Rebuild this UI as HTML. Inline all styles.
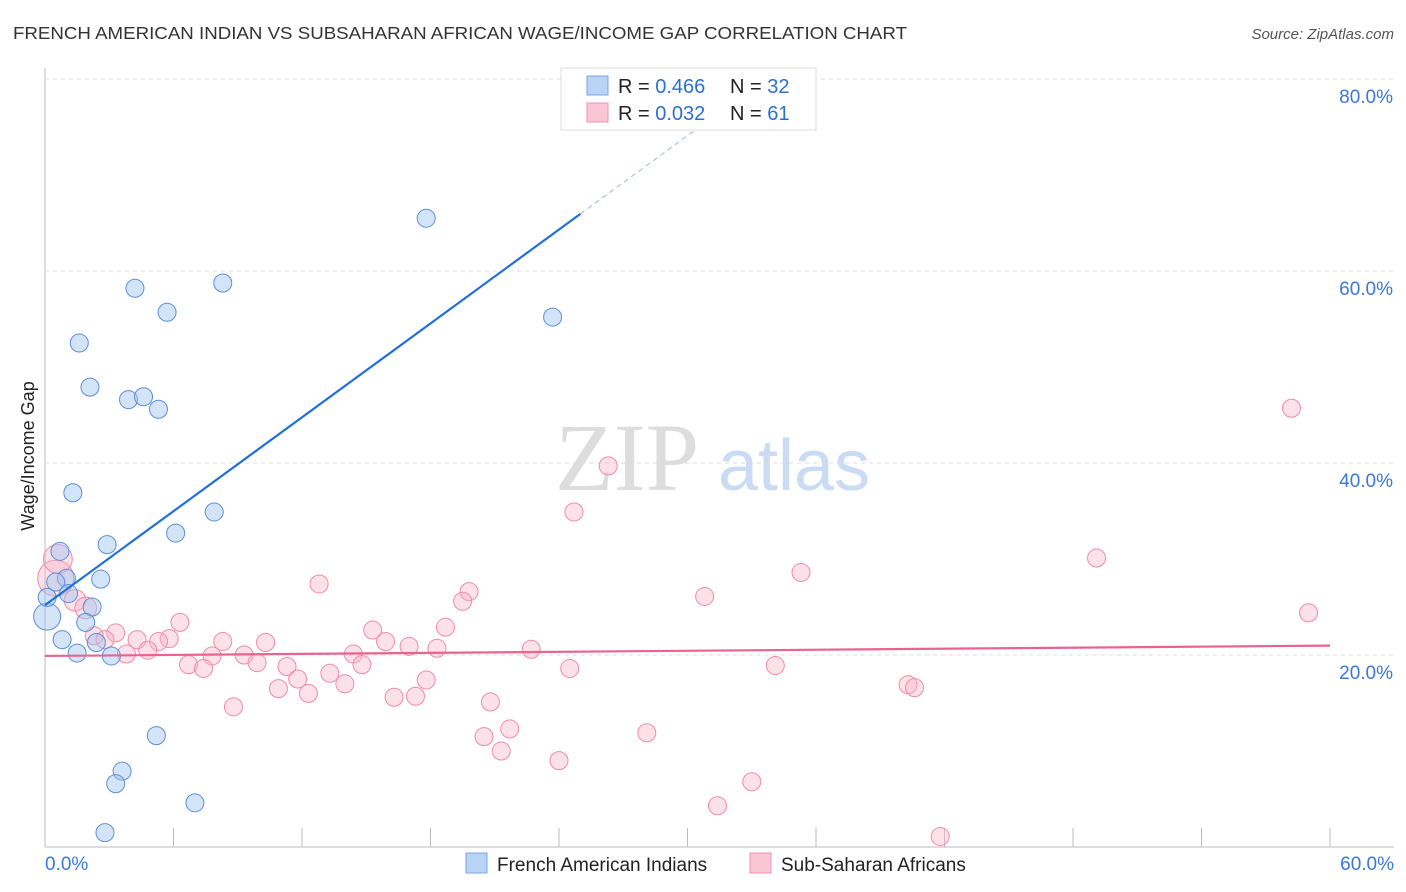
<!DOCTYPE html>
<html><head><meta charset="utf-8"><style>
body{margin:0;background:#fff;font-family:"Liberation Sans",sans-serif;}
svg{display:block}
</style></head><body>
<svg id="chart" width="1406" height="892" viewBox="0 0 1406 892">
<text x="13" y="39" font-size="17.5" fill="#333" textLength="894" lengthAdjust="spacingAndGlyphs">FRENCH AMERICAN INDIAN VS SUBSAHARAN AFRICAN WAGE/INCOME GAP CORRELATION CHART</text>
<text x="1394" y="39" font-size="15" fill="#555" text-anchor="end" font-style="italic">Source: ZipAtlas.com</text>
<text x="555" y="490" font-size="96" fill="#ddd" font-family="Liberation Serif,serif">ZIP</text>
<text x="718" y="490" font-size="72" fill="#c9dcf3">atlas</text>
<text transform="translate(34,456) rotate(-90)" font-size="18" fill="#222" text-anchor="middle">Wage/Income Gap</text>
<g id="grid"></g><g id="pts"></g><g id="lines"></g>
<g>
<rect x="561" y="68" width="255" height="62" fill="#fff" stroke="#ddd"/>
<rect x="587" y="76" width="21" height="19" fill="#b9d3f5" stroke="#7aa6e0"/>
<rect x="587" y="103" width="21" height="19" fill="#fac6d5" stroke="#ee93ad"/>
<text x="618" y="93" font-size="20" fill="#222">R = <tspan fill="#2c6fd1">0.466</tspan></text>
<text x="730" y="93" font-size="20" fill="#222">N = <tspan fill="#2c6fd1">32</tspan></text>
<text x="618" y="120" font-size="20" fill="#222">R = <tspan fill="#2c6fd1">0.032</tspan></text>
<text x="730" y="120" font-size="20" fill="#222">N = <tspan fill="#2c6fd1"> 61</tspan></text>
</g>
<g>
<rect x="466" y="853" width="21" height="20" fill="#b9d3f5" stroke="#7aa6e0"/>
<text x="497" y="871" font-size="19" fill="#222">French American Indians</text>
<rect x="750" y="853" width="21" height="20" fill="#fac6d5" stroke="#ee93ad"/>
<text x="781" y="871" font-size="19" fill="#222">Sub-Saharan Africans</text>
</g>
</svg>
<script>
const xTicks=[0,6,12,18,24,30,36,42,48,54,60];
const yTicks=[20,40,60,80];
const blueX=[17.8,4.2,8.3,5.7,23.7,1.6,2.1,3.9,4.6,5.3,1.3,7.9,6.1,2.9,0.7,2.6,1.0,0.5,1.1,2.2,0.1,1.9,0.8,2.4,1.5,3.1,5.2,3.6,3.3,7.0,2.8,0.1];
const blueY=[65.5,58.2,58.75,55.7,55.2,52.5,47.9,46.6,46.9,45.6,36.9,34.9,32.7,31.5,30.8,27.9,28.0,27.6,26.4,25.0,24.0,23.4,21.6,21.3,20.2,19.9,11.6,7.9,6.6,4.6,1.5,26.0];
const blueW=[1,1,1,1,1,1,1,1,1,1,1,1,1,1,1,1,1,1,1,1,1.5,1,1,1,1,1,1,1,1,1,1,1];
const pinkX=[58.2,26.3,24.7,49.1,35.3,12.8,19.8,19.5,30.8,59.0,6.3,18.7,15.3,3.3,2.3,2.8,4.3,5.8,5.3,8.3,10.3,15.9,17.0,18.3,22.7,4.8,3.8,7.8,9.3,14.4,9.9,6.7,7.4,11.3,14.8,24.5,34.1,13.3,11.8,17.8,14.0,10.9,12.3,16.3,17.3,40.3,40.6,20.8,8.8,21.7,20.5,28.1,21.3,24.0,33.0,31.4,41.8,0.5,0.6,1.4,1.9];
const pinkY=[45.7,39.7,34.9,30.1,28.6,27.4,26.6,25.6,26.1,24.4,23.4,22.9,22.6,22.3,22.0,21.6,21.6,21.7,21.4,21.4,21.3,21.4,20.9,20.7,20.6,20.5,20.1,19.9,20.0,20.1,19.2,19.0,18.6,18.8,19.0,18.6,18.9,18.1,17.5,17.4,17.0,16.5,16.0,15.6,15.7,16.9,16.6,15.1,14.6,12.3,11.5,11.9,10.0,9.0,6.8,4.3,1.1,28.0,30.0,25.7,24.9];
const pinkW=[1,1,1,1,1,1,1,1,1,1,1,1,1,1,1,1,1,1,1,1,1,1,1,1,1,1,1,1,1,1,1,1,1,1,1,1,1,1,1,1,1,1,1,1,1,1,1,1,1,1,1,1,1,1,1,1,1,2.0,1.6,1.2,1.2];
const blueTrend=[25.2,1.63];
const pinkTrend=[19.9,0.018];
const NS='http://www.w3.org/2000/svg';
const sx=v=>45+v*(1285/60), sy=v=>847-v*9.6;
function mk(tag,attrs,parent){const e=document.createElementNS(NS,tag);for(const k in attrs)e.setAttribute(k,attrs[k]);parent.appendChild(e);return e;}
const grid=document.getElementById('grid'),pts=document.getElementById('pts'),lines=document.getElementById('lines');
let ax=mk('line',{x1:45,y1:68,x2:45,y2:847,stroke:'#bbb'},grid);


let bx=mk('line',{x1:45,y1:847,x2:1394,y2:847,stroke:'#bbb'},grid);


yTicks.forEach(t=>{
 const g=mk('line',{x1:45,y1:sy(t),x2:1394,y2:sy(t),stroke:'#ddd','stroke-dasharray':'4,4'},grid);
 
 
 const tx=mk('text',{x:1393,y:sy(t)+24,'font-size':19,fill:'#3b78d8','text-anchor':'end'},grid);tx.textContent=t.toFixed(1)+'%';
 
 
});
xTicks.forEach(t=>{
 const l=mk('line',{x1:sx(t),y1:828,x2:sx(t),y2:847,stroke:'#bbb'},grid);
 
 
});
[[0,'0.0%','start',45],[60,'60.0%','end',1394]].forEach(([v,s,a,x])=>{
 const tx=mk('text',{x:x,y:870,'font-size':19,fill:'#3b78d8','text-anchor':a},grid);tx.textContent=s;
 
 
});
pinkX.forEach((x,i)=>{
 const c=mk('circle',{cx:sx(x),cy:sy(pinkY[i]),r:9*pinkW[i],fill:'rgba(248,180,200,0.4)',stroke:'#f08aa8','stroke-width':1},pts);
 
 
});
blueX.forEach((x,i)=>{
 const c=mk('circle',{cx:sx(x),cy:sy(blueY[i]),r:9*blueW[i],fill:'rgba(160,195,240,0.45)',stroke:'#5b8fd8','stroke-width':1},pts);
 
 
});
let bl=mk('line',{x1:sx(0),y1:sy(blueTrend[0]),x2:sx(25),y2:sy(blueTrend[0]+blueTrend[1]*25),stroke:'#1f6fdc','stroke-width':2.2},lines);


let bd=mk('line',{x1:sx(25),y1:sy(blueTrend[0]+blueTrend[1]*25),x2:sx(32.5),y2:sy(blueTrend[0]+blueTrend[1]*32.5),stroke:'#9bb8e0','stroke-width':1,'stroke-dasharray':'5,4'},lines);


let pl=mk('line',{x1:sx(0),y1:sy(pinkTrend[0]),x2:sx(60),y2:sy(pinkTrend[0]+pinkTrend[1]*60),stroke:'#e8648e','stroke-width':2.2},lines);


</script>
</body></html>
